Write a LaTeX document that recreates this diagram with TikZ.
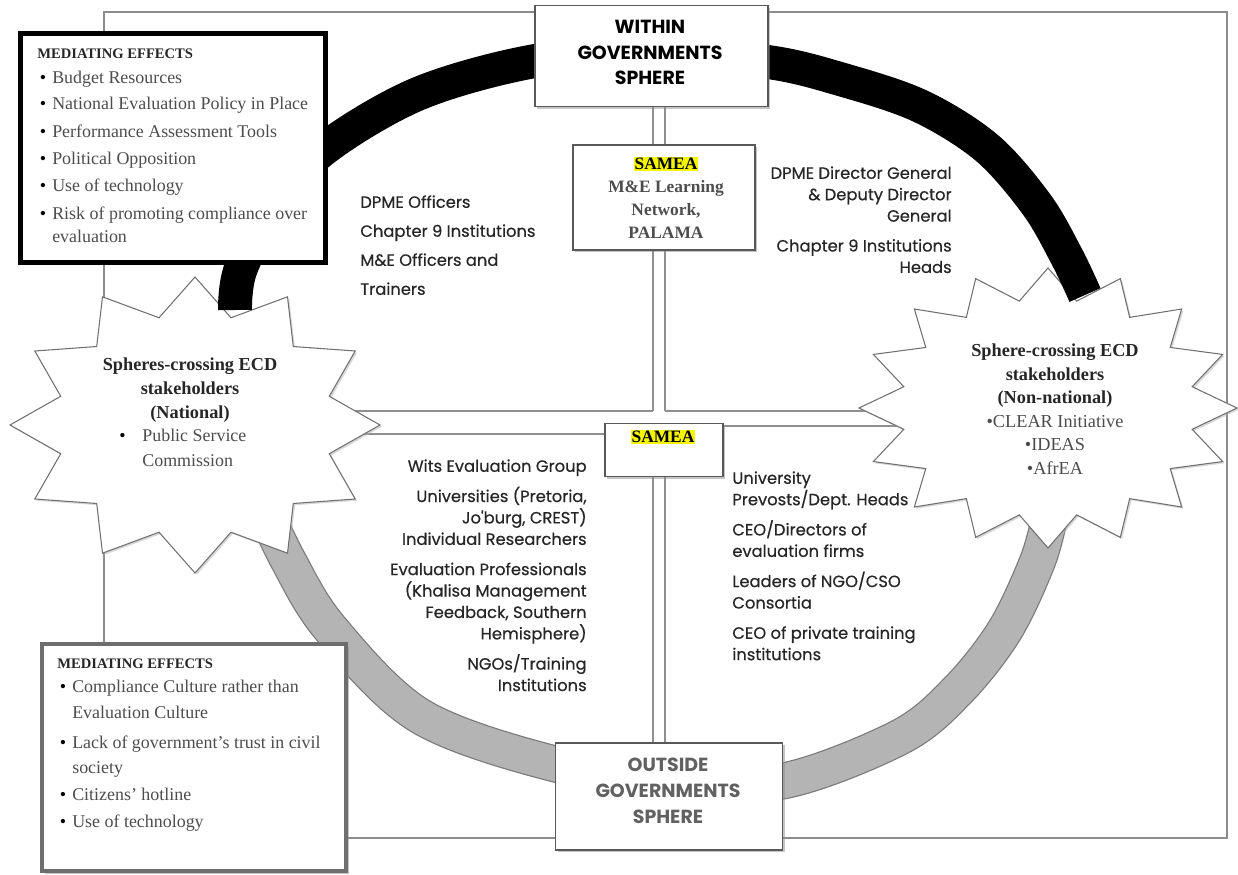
\documentclass[tikz,border=0pt]{standalone}
\usepackage{fontspec}
\setmainfont{Liberation Serif}
\newfontfamily\gothic{Poppins}
\newfontfamily\gothicq[FakeBold=0.45]{Poppins}
\usetikzlibrary{shadows}
\pgfdeclarelayer{lone}\pgfdeclarelayer{ltwo}\pgfdeclarelayer{lthree}\pgfdeclarelayer{lfour}
\pgfsetlayers{lone,ltwo,lthree,lfour,main}
\definecolor{framec}{HTML}{8C8C8C}
\definecolor{chan}{HTML}{8F8F8F}
\definecolor{bandedge}{HTML}{7A7A7A}
\definecolor{bandfill}{HTML}{B4B4B4}
\definecolor{starline}{HTML}{707070}
\definecolor{qtext}{HTML}{262626}
\definecolor{stext}{HTML}{4D4D4D}
\definecolor{hl}{HTML}{F5F500}
\definecolor{bledge}{HTML}{6E6E6E}
\newcommand\mbul{\makebox[8.5pt][l]{\hspace{1.5pt}\textcolor{black}{\textbullet}}}
\setlength\fboxsep{0.6pt}
\begin{document}
\begin{tikzpicture}[x=0.02cm,y=-0.02cm,
  box/.style={draw=black!65, line width=0.6pt, fill=white, inner sep=0pt,
    drop shadow={shadow xshift=1.4pt, shadow yshift=-1.4pt, fill=black!45}},
  medbox/.style={fill=white, inner sep=0pt,
    drop shadow={shadow xshift=1.6pt, shadow yshift=-1.6pt, fill=black!45}},
  chanline/.style={draw=chan, line width=0.8pt},
  starshape/.style={draw=starline, line width=0.6pt, fill=white,
    drop shadow={shadow xshift=1pt, shadow yshift=-1pt, fill=black!30}},
  qt/.style={font=\gothicq\fontsize{9.3}{12.2}\selectfont, text=qtext, inner sep=0pt},
  medtext/.style={font=\fontsize{10.2}{15.6}\selectfont, align=left, anchor=north west, inner sep=0pt, text=stext}]
\useasboundingbox (0,0) rectangle (1238,875);
\begin{pgfonlayer}{lone}
\fill[white] (0,0) rectangle (1238,875);
\end{pgfonlayer}

% boxes
\node[box, minimum width=132.6pt, minimum height=58pt] (topbox) at (651.5,56) {};
\node[box, minimum width=103.6pt, minimum height=59.75pt] (sam1) at (664,197.5) {};
\node[box, minimum width=67.15pt, minimum height=30.7pt] (sam2) at (664,450) {};
\node[box, minimum width=129.7pt, minimum height=60.9pt] (botbox) at (669,796.5) {};
\node[medbox, draw=black, line width=2.85pt, minimum width=173.6pt, minimum height=130.3pt] (med1) at (173,148) {};
\node[medbox, draw=bledge, line width=2.3pt, minimum width=173pt, minimum height=129.2pt] (med2) at (194,757.5) {};

% coordinates for channel lines
\coordinate (vL) at (653,0);
\coordinate (vR) at (665,0);
\coordinate (hU) at (0,411);
\coordinate (hLl) at (0,434);
\coordinate (hLr) at (0,426);
\coordinate (lsE) at (340,0);
\coordinate (rsW) at (905,0);

\begin{pgfonlayer}{lone}
\draw[framec, line width=0.7pt] (104,12) rectangle (1227,838);
\draw[line width=21pt, bandedge] plot[smooth, tension=0.55] coordinates {(262,505) (288,560) (330,628) (420,716) (555,764) (670,781) (783,781) (900,737) (958,690) (1005,630) (1038,560) (1050,515)};
\draw[line width=19.6pt, bandfill] plot[smooth, tension=0.55] coordinates {(262,505) (288,560) (330,628) (420,716) (555,764) (670,781) (783,781) (900,737) (958,690) (1005,630) (1038,560) (1050,515)};
\end{pgfonlayer}

\begin{pgfonlayer}{ltwo}
\draw[chanline] (topbox.south -| vL) -- (sam1.north -| vL);
\draw[chanline] (topbox.south -| vR) -- (sam1.north -| vR);
\draw[chanline] (sam1.south -| vL) -- (hU -| vL);
\draw[chanline] (sam1.south -| vR) -- (hU -| vR);
\draw[chanline] (sam2.south -| vL) -- (botbox.north -| vL);
\draw[chanline] (sam2.south -| vR) -- (botbox.north -| vR);
\draw[chanline] (hU -| lsE) -- (hU -| vL);
\draw[chanline] (hU -| vR) -- (hU -| rsW);
\draw[chanline] (hLl -| lsE) -- (hLl -| sam2.west);
\draw[chanline] (hLr -| sam2.east) -- (hLr -| rsW);
\end{pgfonlayer}

\begin{pgfonlayer}{lthree}
\draw[starshape] plot[variable=\i, samples at={0,...,23}] ({195+ifthenelse(iseven(\i),185,139)*cos(15*\i)},{425+ifthenelse(iseven(\i),148,111)*sin(15*\i)}) -- cycle;
\draw[starshape] plot[variable=\i, samples at={0,...,31}] ({1048+ifthenelse(iseven(\i),189,147)*cos(11.25*\i)},{408+ifthenelse(iseven(\i),140,109)*sin(11.25*\i)}) -- cycle;
\end{pgfonlayer}

\begin{pgfonlayer}{lfour}
\draw[line width=19.3pt, black] plot[smooth, tension=0.55] coordinates {(235,310) (241,268) (278,198) (328,146) (420,93) (535,61) (650,52) (768,62) (840,79) (920,106) (987,148) (1037,205) (1067,257) (1085,295)};
\end{pgfonlayer}

% box texts
\node[font=\gothic\bfseries\fontsize{10.8}{14.5}\selectfont, align=center, inner sep=0pt] (toptext) at (650,52.5) {WITHIN\\GOVERNMENTS\\SPHERE};
\node[font=\gothic\bfseries\fontsize{10.8}{14.8}\selectfont, align=center, inner sep=0pt, text=black!62] (bottext) at (668,791) {OUTSIDE\\GOVERNMENTS\\SPHERE};
\node[font=\bfseries\fontsize{9.9}{13.1}\selectfont, align=center, inner sep=0pt, text=stext] (sam1t) at (666,198) {\colorbox{hl}{\textcolor{black}{SAMEA}}\\M\&E Learning\\Network,\\PALAMA};
\node[font=\bfseries\fontsize{9.9}{12}\selectfont, inner sep=0pt] (sam2t) at (663,437) {\colorbox{hl}{SAMEA}};

% quadrant texts
\node[qt, anchor=north west, align=left] (tlq) at (360,195) {DPME Officers\\[4.3pt]Chapter 9 Institutions\\[4.3pt]M\&E Officers and\\[4.3pt]Trainers};
\node[qt, anchor=north east, align=right] (trq) at (952,166) {DPME Director General\\\& Deputy Director\\General\\[4.8pt]Chapter 9 Institutions\\Heads};
\node[qt, anchor=north east, align=right] (blq) at (587,459) {Wits Evaluation Group\\[5pt]Universities (Pretoria,\\Jo'burg, CREST)\\Individual Researchers\\[5pt]Evaluation Professionals\\(Khalisa Management\\Feedback, Southern\\Hemisphere)\\[5pt]NGOs/Training\\Institutions};
\node[qt, anchor=north west, align=left] (brq) at (732,471) {University\\Prevosts/Dept. Heads\\[5pt]CEO/Directors of\\evaluation firms\\[5pt]Leaders of NGO/CSO\\Consortia\\[5pt]CEO of private training\\institutions};

% star texts
\node[font=\bfseries\fontsize{10.4}{13.6}\selectfont, align=center, text=black!85, inner sep=0pt] (lst) at (190,390) {Spheres-crossing ECD\\stakeholders\\(National)};
\node[font=\fontsize{10.2}{14.2}\selectfont, align=left, text=stext, anchor=north west, inner sep=0pt] (lsb) at (119,429) {\makebox[13.1pt][l]{\textcolor{black}{\textbullet}}Public Service\\\hspace*{13.1pt}Commission};
\node[font=\fontsize{10.4}{13.4}\selectfont, align=center, text=black!85, inner sep=0pt] (rst) at (1055,409) {\textbf{Sphere-crossing ECD}\\\textbf{stakeholders}\\\textbf{(Non-national)}\\\textcolor{stext}{\textbullet CLEAR Initiative}\\\textcolor{stext}{\textbullet IDEAS}\\\textcolor{stext}{\textbullet AfrEA}};

% mediating texts
\node[medtext] (med1t) at (37,48.3) {\textcolor{black!85}{\fontsize{8.3}{15.6}\selectfont\bfseries MEDIATING EFFECTS}\\[-1.5pt]\mbul Budget Resources\\[-0.3pt]\mbul National Evaluation Policy in Place\\\mbul Performance Assessment Tools\\\mbul Political Opposition\\[-0.3pt]\mbul Use of technology\\\mbul Risk of promoting compliance over\\[-2pt]\hspace*{8.5pt}evaluation};
\node[medtext, font=\fontsize{10.2}{15.4}\selectfont] (med2t) at (57,658) {\textcolor{black!85}{\fontsize{8.3}{15.4}\selectfont\bfseries MEDIATING EFFECTS}\\[-1.7pt]\mbul Compliance Culture rather than\\[-0.6pt]\hspace*{8.5pt}Evaluation Culture\\[1.7pt]\mbul Lack of government's trust in civil\\[-1.2pt]\hspace*{8.5pt}society\\\mbul Citizens' hotline\\\mbul Use of technology};
\end{tikzpicture}
\end{document}
